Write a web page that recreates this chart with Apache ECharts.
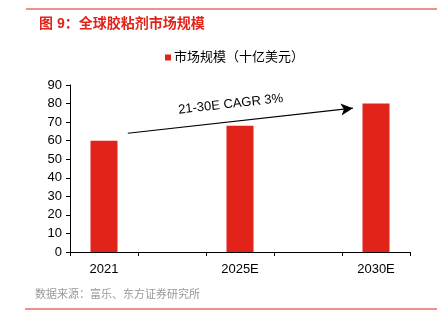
<!DOCTYPE html>
<html><head><meta charset="utf-8">
<script src="https://cdn.jsdelivr.net/npm/echarts@6/dist/echarts.min.js"></script>
<style>html,body{margin:0;padding:0;background:#fff}#c{width:446px;height:331px}</style>
</head><body><div id="c"></div>
<script>
const categories = ['2021', '', '2025E', '', '2030E'];
const marketSize = [60, '-', 68, '-', 80];
const seriesName = '市场规模（十亿美元）';
const titleText = '图 9：全球胶粘剂市场规模';
const sourceText = '数据来源：富乐、东方证券研究所';
const cagrText = '21-30E CAGR 3%';
const arrowStart = [0.35, 64];
const arrowEnd = [3.66, 77.5];

const red = '#E2231A';
const cjk = '"Liberation Sans", "Noto Sans CJK SC", sans-serif';
const chart = echarts.init(document.getElementById('c'));
chart.setOption({
  animation: false,
  title: {
    text: titleText, left: 34, top: 12,
    textStyle: { color: red, fontSize: 14, fontWeight: 'bold', fontFamily: cjk }
  },
  legend: {
    data: [seriesName], top: 46, left: 160,
    itemWidth: 6, itemHeight: 6, itemGap: 4,
    icon: 'rect',
    textStyle: { fontSize: 13, color: '#000', fontFamily: cjk, padding: [0, 0, 0, -2] }
  },
  graphic: [
    { type: 'line', shape: { x1: 26, y1: 9, x2: 437, y2: 9 }, style: { stroke: red, lineWidth: 1 } },
    { type: 'line', shape: { x1: 25, y1: 309, x2: 437, y2: 309 }, style: { stroke: red, lineWidth: 1 } },
    { type: 'text', left: 35, top: 289, style: { text: sourceText, fill: '#999999', fontSize: 11, fontFamily: cjk } }
  ],
  grid: { left: 70, right: 36, top: 85, bottom: 79 },
  xAxis: [{
    type: 'category', data: categories,
    axisLine: { lineStyle: { color: '#000', width: 1 } },
    axisTick: { show: true, interval: 0, length: 4, lineStyle: { color: '#000' } },
    axisLabel: { interval: 0, color: '#000', fontSize: 13, fontFamily: cjk, margin: 11 }
  }, {
    type: 'value', min: -0.5, max: 4.5, show: false
  }],
  yAxis: {
    type: 'value', min: 0, max: 90, interval: 10,
    splitLine: { show: false },
    axisLine: { show: true, onZero: false, lineStyle: { color: '#000', width: 1 } },
    axisTick: { show: true, length: 4, lineStyle: { color: '#000' } },
    axisLabel: { color: '#000', fontSize: 13, fontFamily: cjk, margin: 8 }
  },
  series: [{
    name: seriesName, type: 'bar', data: marketSize,
    barWidth: 27, itemStyle: { color: red }
  }, {
    name: 'cagr', type: 'line', xAxisIndex: 1, data: [], silent: true,
    markLine: {
      silent: true, symbol: ['none', 'arrow'], symbolSize: [9, 12],
      lineStyle: { color: '#000', width: 1.2, type: 'solid' },
      label: { show: true, position: 'middle', formatter: cagrText, color: '#000', fontSize: 13, fontFamily: cjk, distance: 11, offset: [-9, 0] },
      data: [[{ coord: arrowStart }, { coord: arrowEnd }]]
    }
  }]
});
</script></body></html>
